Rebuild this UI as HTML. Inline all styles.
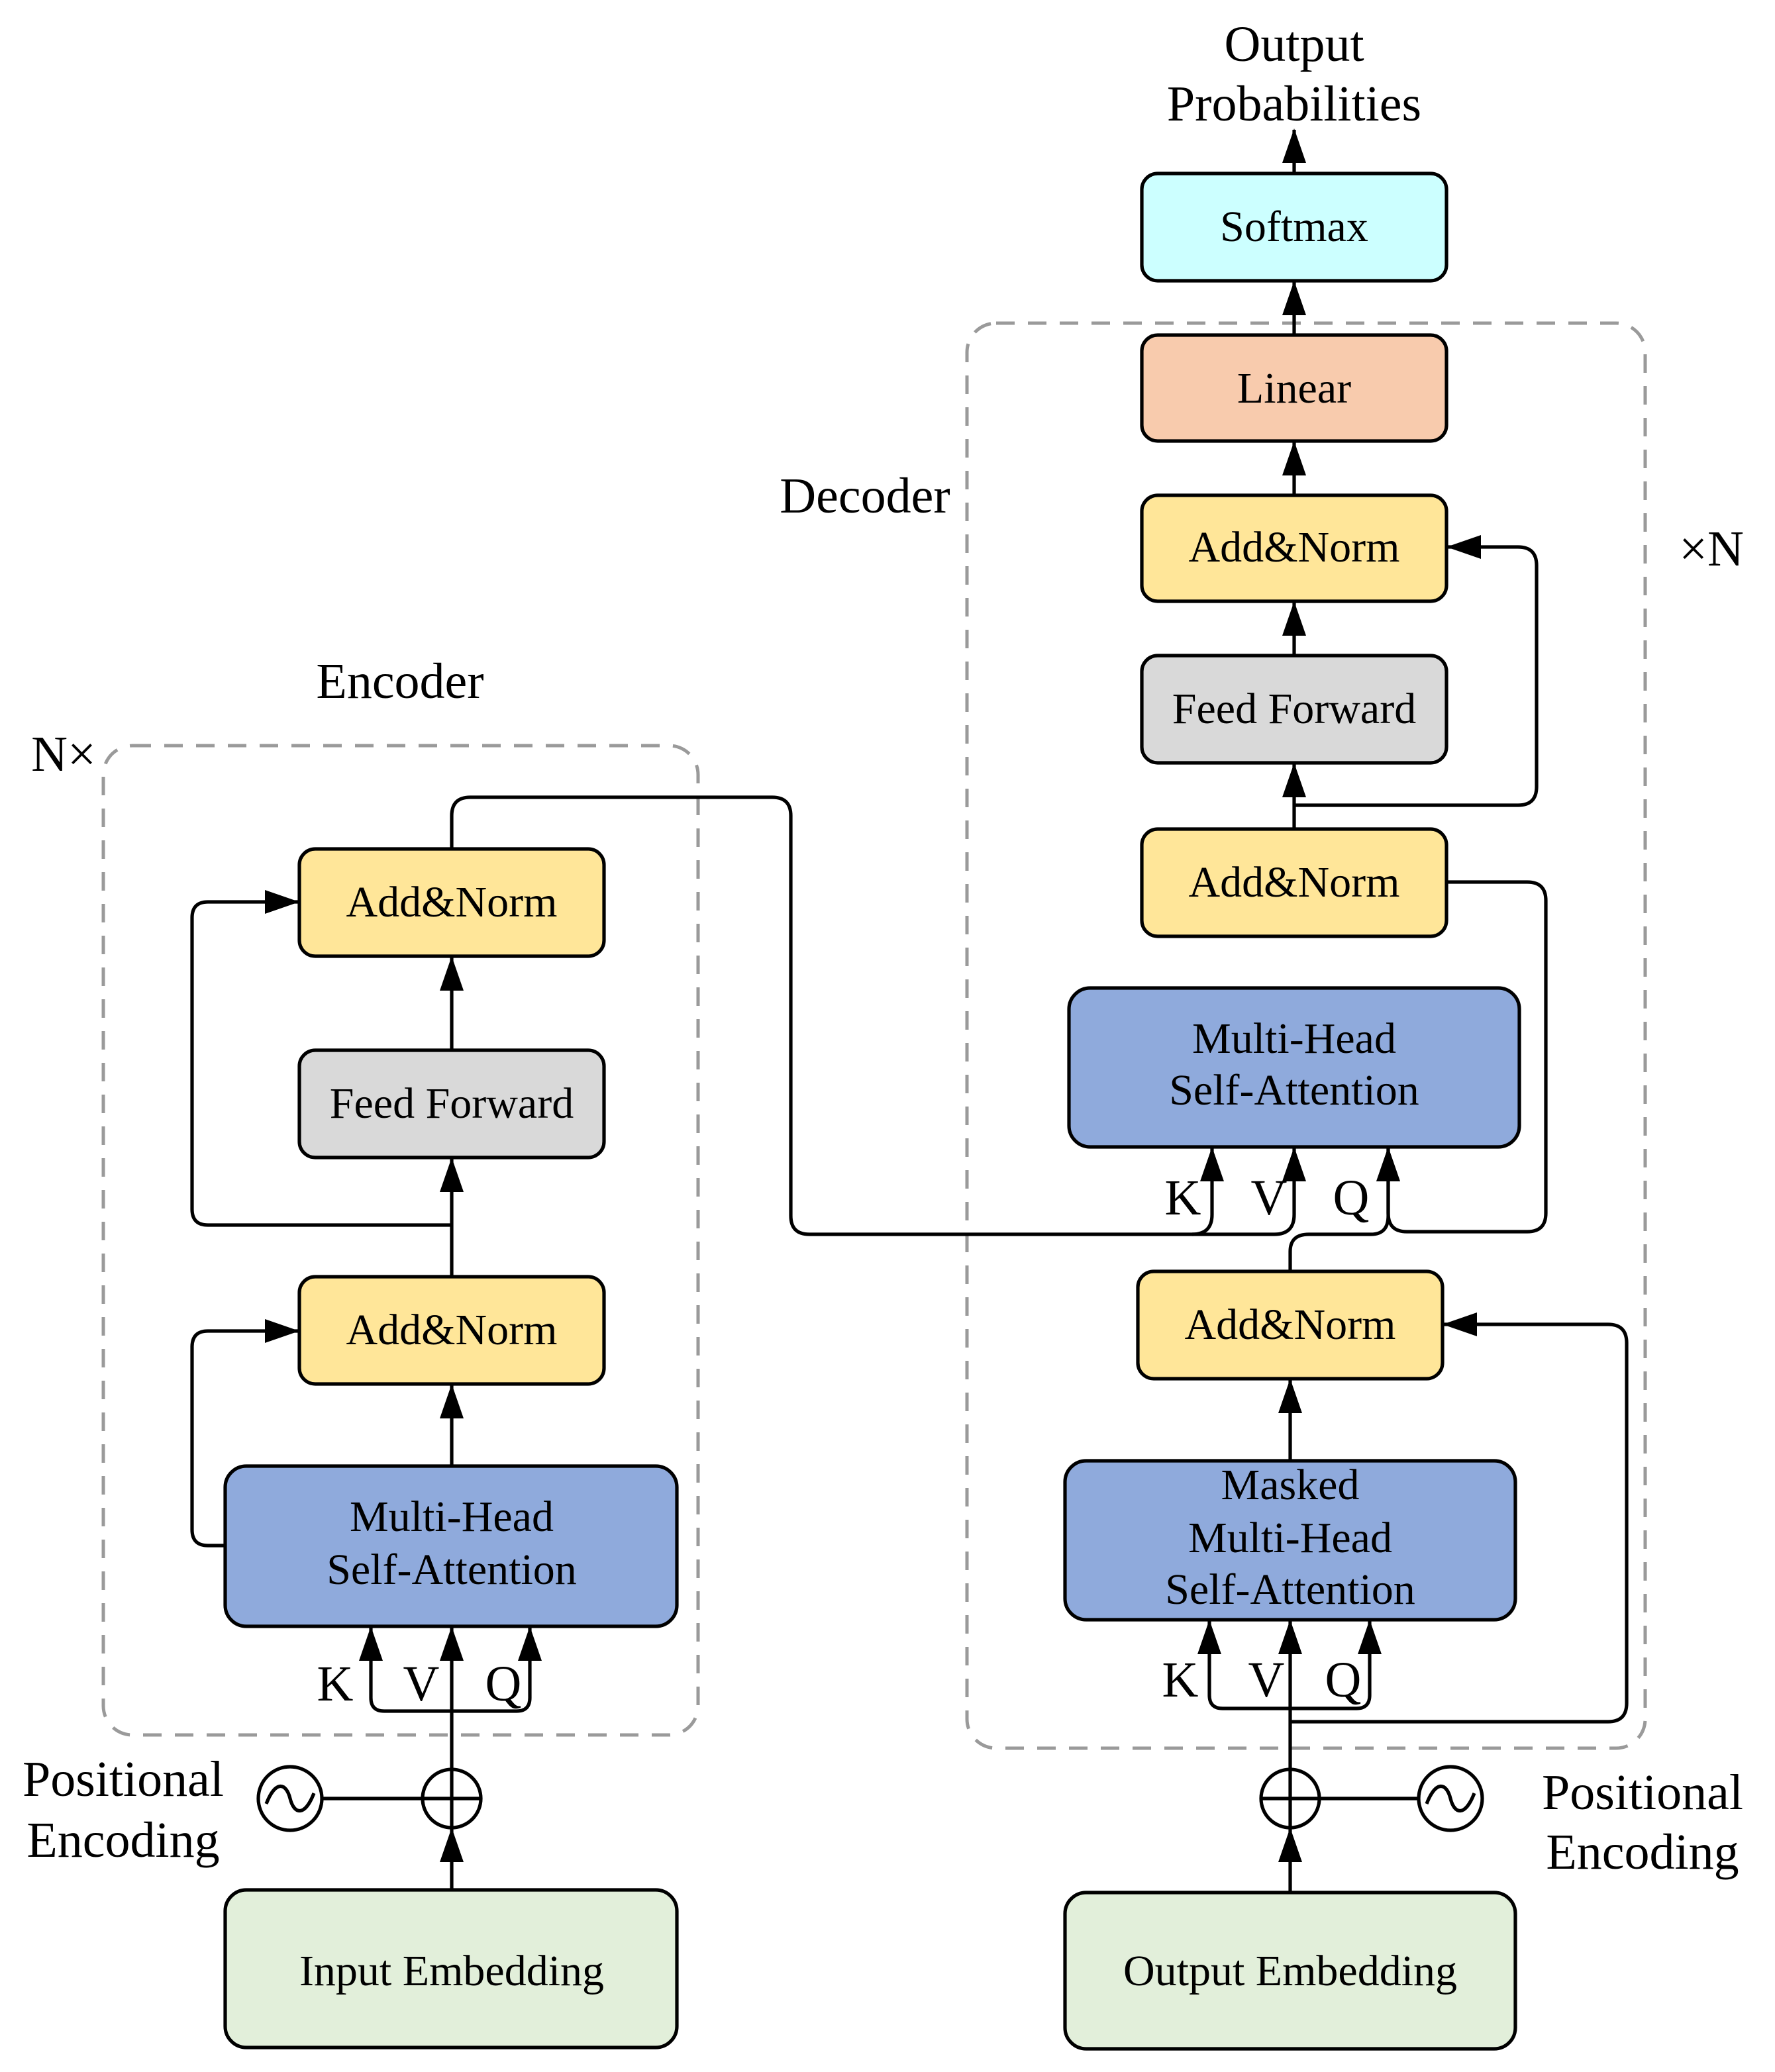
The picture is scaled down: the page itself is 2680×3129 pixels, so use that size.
<!DOCTYPE html>
<html><head><style>html,body{margin:0;padding:0;background:#fff}svg{display:block}</style></head>
<body>
<svg width="2680" height="3129" viewBox="0 0 1340 1564.5" xmlns="http://www.w3.org/2000/svg" font-family="Liberation Serif, serif">
<defs>
<marker id="a" markerUnits="userSpaceOnUse" markerWidth="28" markerHeight="20" refX="25" refY="9" orient="auto">
<path d="M0,0 L26,9 L0,18 Z" fill="#000"/>
</marker>
</defs>
<g fill="none" stroke="#9a9a9a" stroke-width="2.5" stroke-dasharray="14,10">
<rect x="78" y="563" width="449" height="747" rx="22"/>
<rect x="730" y="244" width="512" height="1076" rx="22"/>
</g>
<g stroke="#000" stroke-width="2.6">
<rect x="226" y="641" width="230" height="81" rx="12" fill="#FFE699"/>
<rect x="226" y="793" width="230" height="81" rx="12" fill="#D9D9D9"/>
<rect x="226" y="964" width="230" height="81" rx="12" fill="#FFE699"/>
<rect x="170" y="1107" width="341" height="121" rx="16" fill="#8FAADC"/>
<rect x="170" y="1427" width="341" height="119" rx="16" fill="#E2EFDA"/>
<rect x="862" y="131" width="230" height="81" rx="12" fill="#CCFFFF"/>
<rect x="862" y="253" width="230" height="80" rx="12" fill="#F8CBAD"/>
<rect x="862" y="374" width="230" height="80" rx="12" fill="#FFE699"/>
<rect x="862" y="495" width="230" height="81" rx="12" fill="#D9D9D9"/>
<rect x="862" y="626" width="230" height="81" rx="12" fill="#FFE699"/>
<rect x="807" y="746" width="340" height="120" rx="16" fill="#8FAADC"/>
<rect x="859" y="960" width="230" height="81" rx="12" fill="#FFE699"/>
<rect x="804" y="1103" width="340" height="120" rx="16" fill="#8FAADC"/>
<rect x="804" y="1429" width="340" height="118" rx="16" fill="#E2EFDA"/>
<circle cx="341" cy="1358" r="22" fill="#fff"/>
<circle cx="219" cy="1358" r="24" fill="#fff"/>
<circle cx="974" cy="1358" r="22" fill="#fff"/>
<circle cx="1095" cy="1358" r="24" fill="#fff"/>
</g>
<g stroke="#000" stroke-width="2.6" fill="none">
<path d="M319,1358 H363 M341,1336 V1380"/>
<path d="M952,1358 H996 M974,1336 V1380"/>
<path d="M201,1362 C208,1344 216,1346 219,1358 C222,1370 230,1372 237,1354"/>
<path d="M1077,1362 C1084,1344 1092,1346 1095,1358 C1098,1370 1106,1372 1113,1354"/>
<path d="M243,1358 H319"/>
<path d="M996,1358 H1071"/>
</g>
<g stroke="#000" stroke-width="2.6" fill="none" marker-end="url(#a)">
<path d="M341,1427 V1381"/>
<path d="M341,1336 V1229"/>
<path d="M341,1292 H290 Q280,1292 280,1282 V1229"/>
<path d="M341,1292 H390 Q400,1292 400,1282 V1229"/>
<path d="M341,1107 V1046"/>
<path d="M170,1167 H157 Q145,1167 145,1155 V1017 Q145,1005 157,1005 H225"/>
<path d="M341,964 V875"/>
<path d="M341,925 H157 Q145,925 145,913 V693 Q145,681 157,681 H225"/>
<path d="M341,793 V723"/>
<path d="M341,641 V616 Q341,602 355,602 H583 Q597,602 597,616 V918 Q597,932 611,932 H900 Q915,932 915,917 V867"/>
<path d="M900,932 H962 Q977,932 977,917 V867"/>
<path d="M1092,666 H1153 Q1167,666 1167,680 V916 Q1167,930 1153,930 H1062 Q1048,930 1048,916 V867"/>
<path d="M974,960 V945 Q974,932 988,932 H1035 Q1048,932 1048,918 V867"/>
<path d="M977,626 V577"/>
<path d="M977,608 H1146 Q1160,608 1160,594 V427 Q1160,413 1146,413 H1093"/>
<path d="M977,495 V455"/>
<path d="M977,374 V334"/>
<path d="M977,253 V213"/>
<path d="M977,131 V98"/>
<path d="M974,1429 V1381"/>
<path d="M974,1336 V1224"/>
<path d="M974,1290 H923 Q913,1290 913,1280 V1224"/>
<path d="M974,1290 H1024 Q1034,1290 1034,1280 V1224"/>
<path d="M974,1300 H1214 Q1228,1300 1228,1286 V1014 Q1228,1000 1214,1000 H1090"/>
<path d="M974,1103 V1042"/>
</g>
<g font-size="33" text-anchor="middle" fill="#000">
<text x="341" y="692">Add&amp;Norm</text>
<text x="341" y="844">Feed Forward</text>
<text x="341" y="1015">Add&amp;Norm</text>
<text x="341" y="1156">Multi-Head</text>
<text x="341" y="1196">Self-Attention</text>
<text x="341" y="1499">Input Embedding</text>
<text x="977" y="182">Softmax</text>
<text x="977" y="304">Linear</text>
<text x="977" y="424">Add&amp;Norm</text>
<text x="977" y="546">Feed Forward</text>
<text x="977" y="677">Add&amp;Norm</text>
<text x="977" y="795">Multi-Head</text>
<text x="977" y="834">Self-Attention</text>
<text x="974" y="1011">Add&amp;Norm</text>
<text x="974" y="1132">Masked</text>
<text x="974" y="1172">Multi-Head</text>
<text x="974" y="1211">Self-Attention</text>
<text x="974" y="1499">Output Embedding</text>
</g>
<g font-size="38" text-anchor="middle" fill="#000">
<text x="253" y="1284">K</text><text x="318" y="1284">V</text><text x="380" y="1284">Q</text>
<text x="893" y="917">K</text><text x="958" y="917">V</text><text x="1020" y="917">Q</text>
<text x="891" y="1281">K</text><text x="956" y="1281">V</text><text x="1014" y="1281">Q</text>
<text x="302" y="527">Encoder</text>
<text x="48" y="582">N×</text>
<text x="653" y="387">Decoder</text>
<text x="1292" y="427">×N</text>
<text x="977" y="46">Output</text>
<text x="977" y="91">Probabilities</text>
<text x="93" y="1356">Positional</text>
<text x="93" y="1402">Encoding</text>
<text x="1240" y="1366">Positional</text>
<text x="1240" y="1411">Encoding</text>
</g>
</svg>
</body></html>
